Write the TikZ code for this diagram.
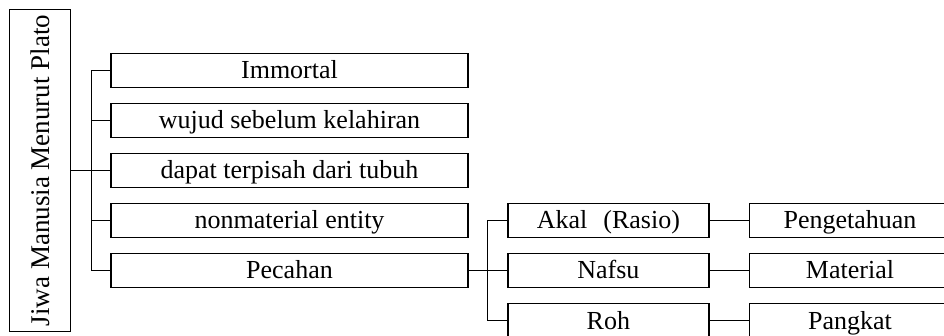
\documentclass[tikz,border=0pt]{standalone}
\usepackage{fontspec}
\setmainfont{Liberation Serif}
\begin{document}
\begin{tikzpicture}[x=1pt,y=-1pt,
  box/.style={draw,line width=1.5pt,minimum height=34pt,inner sep=0pt,
              text height=17pt,text depth=0pt,font=\fontsize{26}{30}\selectfont},
  wone/.style={box,minimum width=357pt},
  wtwo/.style={box,minimum width=201pt},
  conn/.style={line width=1.5pt,line cap=rect}]
\useasboundingbox (0,0) rectangle (944,336);
\clip (0,0) rectangle (944,336);
\node[box,rotate=90,minimum width=322pt,minimum height=61pt,text height=18pt,font=\fontsize{27}{31}\selectfont] (root) at (40,170.5) {Jiwa Manusia Menurut Plato};
\node[wone] (n1) at (289.5,70.5) {Immortal};
\node[wone] (n2) at (289.5,120.5) {wujud sebelum kelahiran};
\node[wone] (n3) at (289.5,170.5) {dapat terpisah dari tubuh};
\node[wone] (n4) at (289.5,220.5) {nonmaterial entity};
\node[wone] (n5) at (289.5,270.5) {Pecahan};
\node[wtwo] (a1) at (608.4,220.5) {Akal\hspace{16pt}(Rasio)};
\node[wtwo] (a2) at (608.4,270.5) {Nafsu};
\node[wtwo] (a3) at (608.4,320.5) {Roh};
\node[wtwo] (b1) at (850,220.5) {Pengetahuan};
\node[wtwo] (b2) at (850,270.5) {Material};
\node[wtwo] (b3) at (850,320.5) {Pangkat};
\coordinate (t1) at (91.5,0);
\coordinate (t2) at (487.7,0);
\draw[conn] (root.south) -- (t1 |- root.south);
\draw[conn] (t1 |- n1.west) -- (t1 |- n5.west);
\foreach \n in {n1,n2,n3,n4,n5} \draw[conn] (t1 |- \n.west) -- (\n.west);
\draw[conn] (n5.east) -- (t2 |- n5.east);
\draw[conn] (t2 |- a1.west) -- (t2 |- a3.west);
\foreach \n in {a1,a2,a3} \draw[conn] (t2 |- \n.west) -- (\n.west);
\draw[conn] (a1.east) -- (b1.west);
\draw[conn] (a2.east) -- (b2.west);
\draw[conn] (a3.east) -- (b3.west);
\end{tikzpicture}
\end{document}
